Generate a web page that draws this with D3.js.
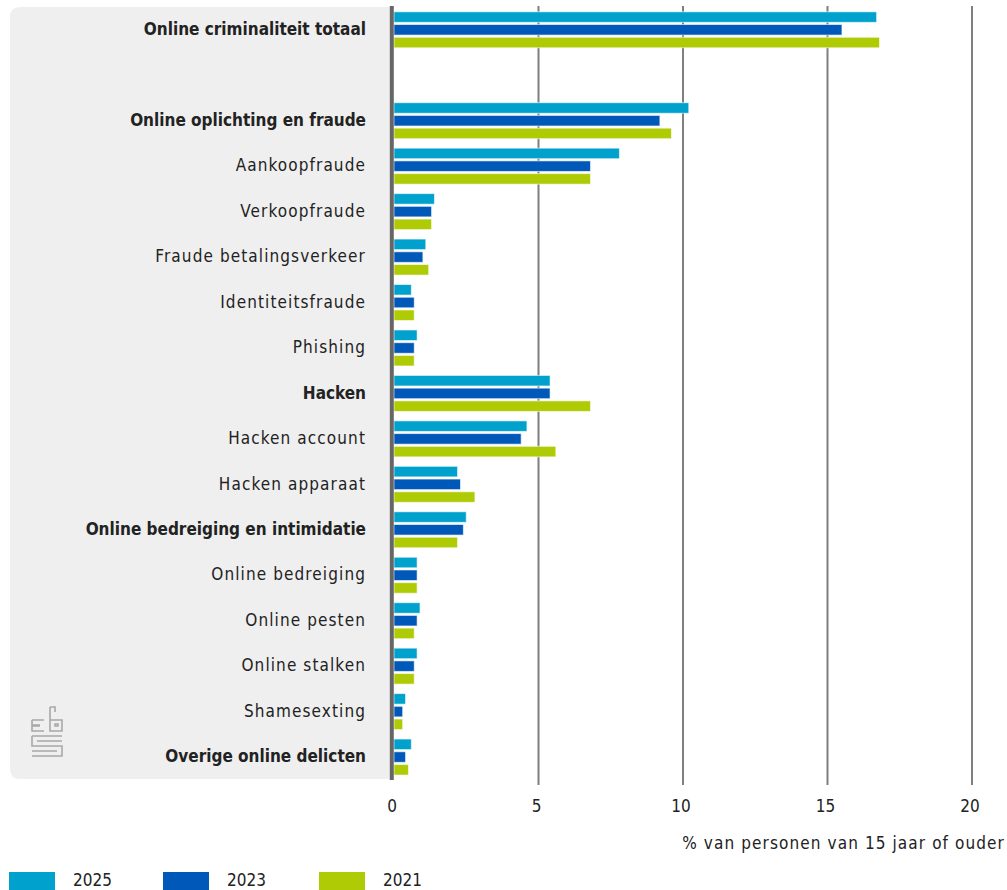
<!DOCTYPE html>
<html>
<head>
<meta charset="utf-8">
<script src="https://cdn.jsdelivr.net/npm/d3@7"></script>
<style>
  body { margin: 0; background: #fff; }
  svg text { font-family: "DejaVu Sans Condensed", "Liberation Sans Narrow", sans-serif; fill: #222; }
  .reg { letter-spacing: 1.1px; }
</style>
</head>
<body>
<svg id="chart"></svg>
<script>
// categories, top to bottom ("" = empty spacer row)
var categories = ["Online criminaliteit totaal", "", "Online oplichting en fraude", "Aankoopfraude",
  "Verkoopfraude", "Fraude betalingsverkeer", "Identiteitsfraude", "Phishing", "Hacken",
  "Hacken account", "Hacken apparaat", "Online bedreiging en intimidatie", "Online bedreiging",
  "Online pesten", "Online stalken", "Shamesexting", "Overige online delicten"];
var boldCats = ["Online criminaliteit totaal", "Online oplichting en fraude", "Hacken",
  "Online bedreiging en intimidatie", "Overige online delicten"];

var years = ["2025", "2023", "2021"];
var colors = ["#00a1cd", "#0058b8", "#afcb05"];

var v2025 = [16.7, null, 10.2, 7.8, 1.4, 1.1, 0.6, 0.8, 5.4, 4.6, 2.2, 2.5, 0.8, 0.9, 0.8, 0.4, 0.6];
var v2023 = [15.5, null, 9.2, 6.8, 1.3, 1.0, 0.7, 0.7, 5.4, 4.4, 2.3, 2.4, 0.8, 0.8, 0.7, 0.3, 0.4];
var v2021 = [16.8, null, 9.6, 6.8, 1.3, 1.2, 0.7, 0.7, 6.8, 5.6, 2.8, 2.2, 0.8, 0.7, 0.7, 0.3, 0.5];
var xTicks = [0, 5, 10, 15, 20];
var xTitle = "% van personen van 15 jaar of ouder";

var width = 1007, height = 890;
var svg = d3.select("#chart").attr("width", width).attr("height", height);

// keys for band scale (spacer needs a unique key)
var keys = categories.map(function(c, i) { return c === "" ? "_blank" + i : c; });
var series = [v2025, v2023, v2021];

var x = d3.scaleLinear().domain([0, 20]).range([394, 972]);
var y = d3.scaleBand().domain(keys).range([6.3, 779]);
var yInner = d3.scaleBand().domain(years).range([5.5, 41.5]).paddingInner(0.17);

// grey panel behind labels
svg.append("path")
  .attr("d", "M10,17 Q10,7 20,7 L392,7 L392,779 L20,779 Q10,779 10,769 Z")
  .attr("fill", "#efefef");

// gridlines
svg.append("g").selectAll("line")
  .data(xTicks.slice(1))
  .enter().append("line")
  .attr("x1", function(d) { return x(d); })
  .attr("x2", function(d) { return x(d); })
  .attr("y1", 6)
  .attr("y2", 785)
  .attr("stroke", "#7f7f7f")
  .attr("stroke-width", 2);

// bars
var rows = svg.append("g").selectAll("g")
  .data(keys)
  .enter().append("g")
  .attr("transform", function(d) { return "translate(0," + y(d) + ")"; });

rows.each(function(k, i) {
  if (series[0][i] == null) return;
  d3.select(this).selectAll("rect")
    .data(years.map(function(yr, j) { return {year: yr, value: series[j][i], color: colors[j]}; }))
    .enter().append("rect")
    .attr("x", x(0))
    .attr("y", function(d) { return yInner(d.year); })
    .attr("width", function(d) { return x(d.value) - x(0); })
    .attr("height", yInner.bandwidth())
    .attr("fill", function(d) { return d.color; })
    .attr("stroke", "#fff")
    .attr("stroke-opacity", 0.6)
    .attr("stroke-width", 1);
});

// category labels
rows.append("text")
  .attr("class", function(d) { return boldCats.indexOf(d) >= 0 ? "" : "reg"; })
  .attr("x", 366)
  .attr("y", y.bandwidth() / 2)
  .attr("dy", "0.35em")
  .attr("text-anchor", "end")
  .style("font-size", "17px")
  .style("font-weight", function(d) { return boldCats.indexOf(d) >= 0 ? "bold" : "normal"; })
  .text(function(d) { return d.indexOf("_blank") === 0 ? "" : d; });

// zero axis line
svg.append("line")
  .attr("x1", 391.8).attr("x2", 391.8)
  .attr("y1", 6).attr("y2", 780)
  .attr("stroke", "#666")
  .attr("stroke-width", 4);

// x axis tick labels
svg.append("g").selectAll("text")
  .data(xTicks)
  .enter().append("text")
  .attr("x", function(d) { return x(d) - 2; })
  .attr("y", 812)
  .attr("text-anchor", "middle")
  .style("font-size", "17px")
  .text(function(d) { return d; });

svg.append("text")
  .attr("class", "reg")
  .attr("x", 1005)
  .attr("y", 849)
  .attr("text-anchor", "end")
  .style("font-size", "17px")
  .text(xTitle);

// cbs logo (simplified)
var logo = svg.append("g")
  .attr("fill", "none")
  .attr("stroke", "#a8a8a8")
  .attr("stroke-width", 1.6);
logo.append("path").attr("d", "M32,720 L44,720 M32,720 L32,731 L44,731 M32,725 L40,725 M32,726 L40,726");
logo.append("path").attr("d", "M50,707 L50,731 L62,731 L62,720 L50,720 M55,712 L55,707 L50,707 M55,726 L58,726 L58,724 L55,724 Z");
logo.append("path").attr("d", "M32,736 L62,736 M32,736 L32,746 L62,746 L62,756 L32,756 M37,741 L62,741 M32,751 L57,751");

// legend
var leg = svg.append("g").selectAll("g")
  .data(years)
  .enter().append("g")
  .attr("transform", function(d, i) { return "translate(" + [9, 163, 319][i] + ",872)"; });
leg.append("rect")
  .attr("width", 46)
  .attr("height", 20)
  .attr("fill", function(d, i) { return colors[i]; });
leg.append("text")
  .attr("x", 64)
  .attr("y", 14)
  .style("font-size", "17px")
  .text(function(d) { return d; });
</script>
</body>
</html>
